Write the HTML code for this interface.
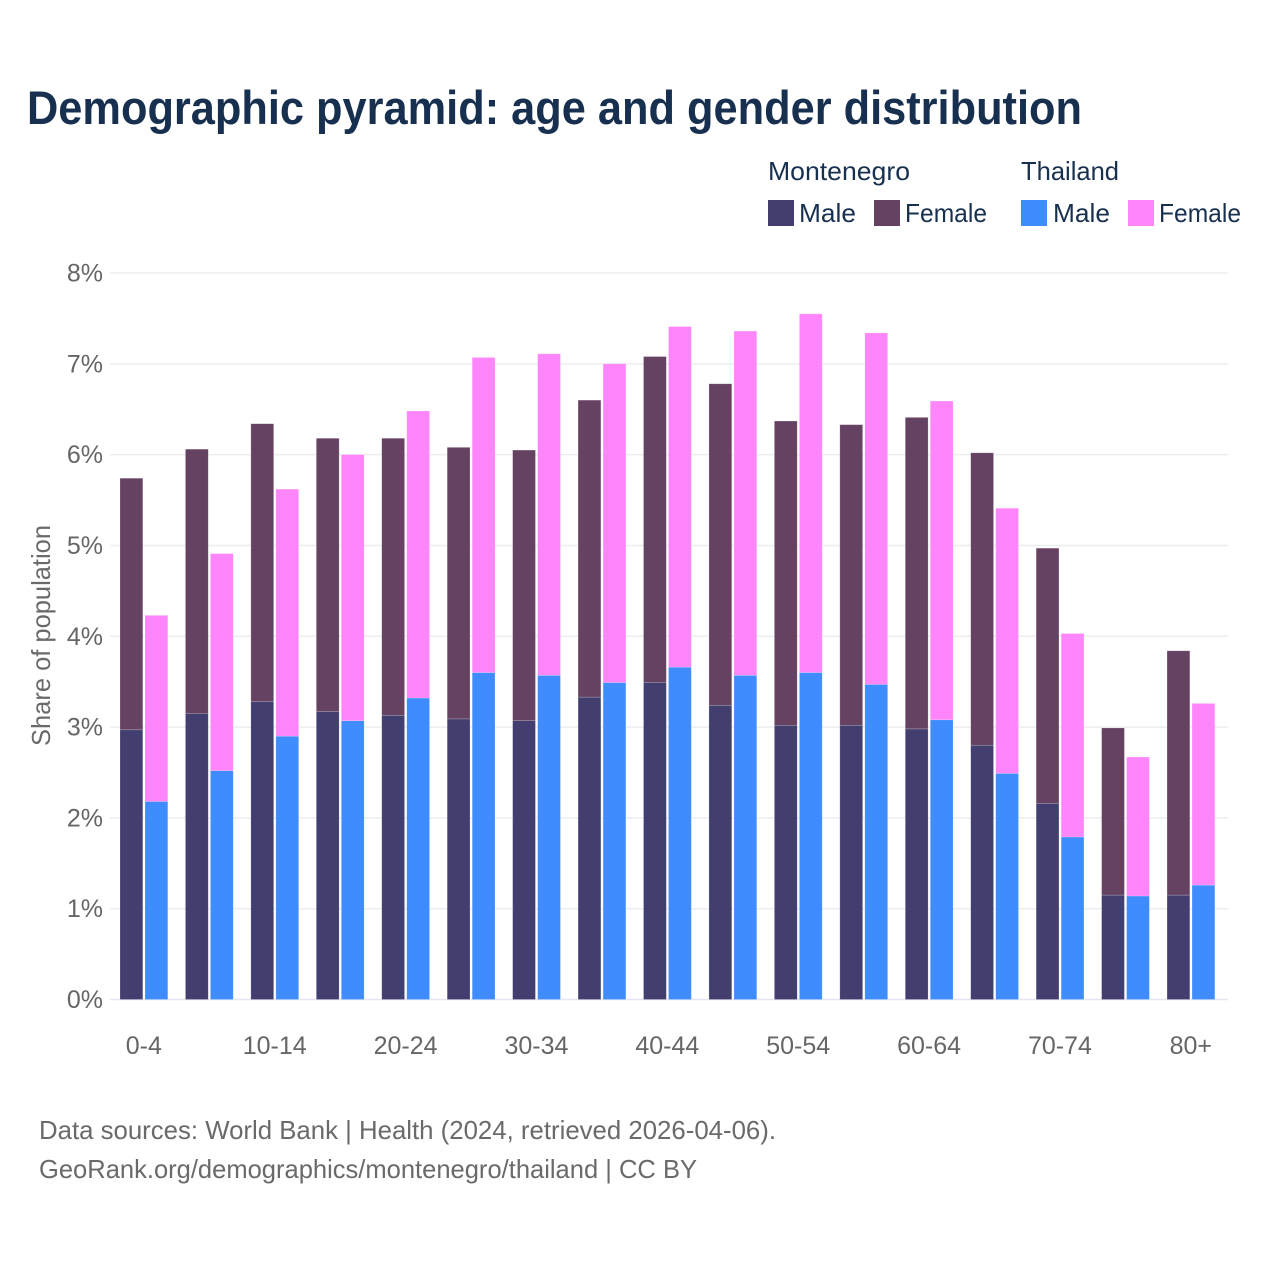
<!DOCTYPE html>
<html lang="en">
<head>
<meta charset="utf-8">
<title>Demographic pyramid: age and gender distribution</title>
<style>
html,body{margin:0;padding:0;background:#fff;}
svg{display:block;font-family:"Liberation Sans",sans-serif;}
.leg{font-size:26px;fill:#18304f;}
.foot{font-size:26px;fill:#6a6a6a;}
.tick{font-size:25px;fill:#666;}
</style>
</head>
<body>
<svg id="chart" xmlns="http://www.w3.org/2000/svg" width="1280" height="1280" viewBox="0 0 1280 1280">
  <rect x="0" y="0" width="1280" height="1280" fill="#ffffff"/>
  <text x="27" y="124" font-size="47" font-weight="700" fill="#18304f" textLength="1055" lengthAdjust="spacingAndGlyphs">Demographic pyramid: age and gender distribution</text>

  <g>
    <text class="leg" x="768" y="180" textLength="142" lengthAdjust="spacingAndGlyphs">Montenegro</text>
    <text class="leg" x="1021" y="180" textLength="98" lengthAdjust="spacingAndGlyphs">Thailand</text>
    <rect x="768" y="200" width="26" height="26" fill="#423f70"/>
    <text class="leg" x="799" y="222" textLength="57" lengthAdjust="spacingAndGlyphs">Male</text>
    <rect x="874" y="200" width="26" height="26" fill="#664262"/>
    <text class="leg" x="905" y="222" textLength="82" lengthAdjust="spacingAndGlyphs">Female</text>
    <rect x="1021" y="200" width="26" height="26" fill="#3f8cff"/>
    <text class="leg" x="1053" y="222" textLength="57" lengthAdjust="spacingAndGlyphs">Male</text>
    <rect x="1128" y="200" width="26" height="26" fill="#ff85fb"/>
    <text class="leg" x="1159" y="222" textLength="82" lengthAdjust="spacingAndGlyphs">Female</text>
  </g>

  <g id="grid"></g>
  <g id="bars"></g>
  <g id="yticks"></g>
  <g id="xticks"></g>

  <text transform="translate(50 746) rotate(-90)" x="0" y="0" font-size="26" fill="#6a6a6a" textLength="221" lengthAdjust="spacingAndGlyphs">Share of population</text>

  <text class="foot" x="39" y="1139" textLength="737" lengthAdjust="spacingAndGlyphs">Data sources: World Bank | Health (2024, retrieved 2026-04-06).</text>
  <text class="foot" x="39" y="1178" textLength="658" lengthAdjust="spacingAndGlyphs">GeoRank.org/demographics/montenegro/thailand | CC BY</text>
</svg>
<script>
const categories = ["0-4","5-9","10-14","15-19","20-24","25-29","30-34","35-39","40-44","45-49","50-54","55-59","60-64","65-69","70-74","75-79","80+"];
const tickCategories = ["0-4","10-14","20-24","30-34","40-44","50-54","60-64","70-74","80+"];
const yTicks = [0,1,2,3,4,5,6,7,8];
const montenegroMale = [2.97,3.15,3.28,3.17,3.13,3.09,3.07,3.33,3.49,3.24,3.02,3.02,2.98,2.80,2.16,1.15,1.15];
const montenegroFemale = [2.77,2.91,3.06,3.01,3.05,2.99,2.98,3.27,3.59,3.54,3.35,3.31,3.43,3.22,2.81,1.84,2.69];
const thailandMale = [2.18,2.52,2.90,3.07,3.32,3.60,3.57,3.49,3.66,3.57,3.60,3.47,3.08,2.49,1.79,1.14,1.26];
const thailandFemale = [2.05,2.39,2.72,2.93,3.16,3.47,3.54,3.51,3.75,3.79,3.95,3.87,3.51,2.92,2.24,1.53,2.00];

const NS = "http://www.w3.org/2000/svg";
const plot = {left:110, right:1228, bottom:999.5, top:273, yMax:8, firstBar:120, step:65.44, barW:22.8, offset:25};
function yScale(v){ return plot.bottom - (v / plot.yMax) * (plot.bottom - plot.top); }
function xScale(i){ return plot.firstBar + i * plot.step; }
function make(tag, attrs){
  const el = document.createElementNS(NS, tag);
  for (const k in attrs) el.setAttribute(k, attrs[k]);
  return el;
}

const gridG = document.getElementById("grid");
const yG = document.getElementById("yticks");
yTicks.forEach(function(t){
  const line = make("line", {x1:plot.left, x2:plot.right, y1:yScale(t), y2:yScale(t), stroke:t===0?"#e6e6f2":"#ecedf0", "stroke-width":1.5});
  
  
  gridG.appendChild(line);
  const label = make("text", {x:103, y:yScale(t)+8.5, "text-anchor":"end", class:"tick"});
  label.textContent = t + "%";
  
  
  yG.appendChild(label);
});

const barsG = document.getElementById("bars");
function drawBar(x, lo, hi, fill, name){
  const r = make("rect", {x:x, y:yScale(hi), width:plot.barW, height:yScale(lo)-yScale(hi), fill:fill, stroke:"#ffffff", "stroke-opacity":0.3, "stroke-width":0.6});
  
  
  barsG.appendChild(r);
}
categories.forEach(function(c, i){
  const x = xScale(i);
  drawBar(x, 0, montenegroMale[i], "#423f70", "bar-montenegro-male");
  drawBar(x, montenegroMale[i], montenegroMale[i] + montenegroFemale[i], "#664262", "bar-montenegro-female");
  drawBar(x + plot.offset, 0, thailandMale[i], "#3f8cff", "bar-thailand-male");
  drawBar(x + plot.offset, thailandMale[i], thailandMale[i] + thailandFemale[i], "#ff85fb", "bar-thailand-female");
});

const xG = document.getElementById("xticks");
tickCategories.forEach(function(c){
  const i = categories.indexOf(c);
  const label = make("text", {x:xScale(i) + plot.barW + 1, y:1054, "text-anchor":"middle", class:"tick"});
  label.textContent = c;
  
  
  xG.appendChild(label);
});
</script>
</body>
</html>
